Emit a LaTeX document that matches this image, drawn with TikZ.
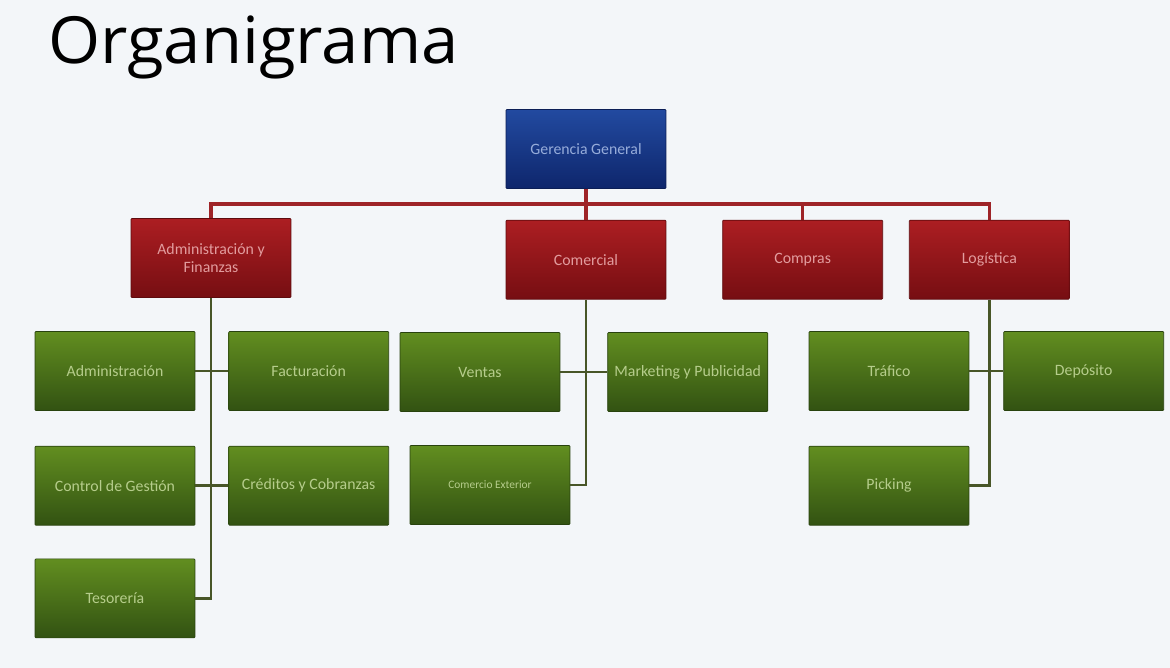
\documentclass[tikz,border=0pt]{standalone}
\usepackage{fontspec}
\setmainfont{Carlito}
\newfontfamily\titlefont{Open Sans}
\usetikzlibrary{positioning}
\definecolor{bg}{RGB}{243,246,249}
\definecolor{bt}{RGB}{34,74,160}
\definecolor{bb}{RGB}{14,38,108}
\definecolor{rt}{RGB}{172,30,34}
\definecolor{rb}{RGB}{118,14,18}
\definecolor{gt}{RGB}{98,142,32}
\definecolor{gb}{RGB}{50,82,18}
\definecolor{l1}{RGB}{158,36,40}
\definecolor{l2}{RGB}{72,86,40}
\definecolor{tb}{RGB}{150,172,218}
\definecolor{tr}{RGB}{226,156,158}
\definecolor{tg}{RGB}{182,205,140}

\begin{document}
\begin{tikzpicture}[
    x=0.02cm, y=-0.02cm,
    font=\fontsize{9}{10}\selectfont,
    e/.style={
        minimum width=3.2cm, minimum height=1.58cm,
        inner xsep=1pt, align=center, rounded corners=0.5pt
    },
    boss/.style={e, top color=bt, bottom color=bb, draw=bb!80!black,
        text=tb},
    dept/.style={e, top color=rt, bottom color=rb, draw=rb!80!black,
        text=tr},
    unit/.style={e, top color=gt, bottom color=gb, draw=gb!80!black,
        text=tg},
    l/.style={line width=2pt, color=l1},
    g/.style={line width=1.5pt, color=l2}
]

\fill [bg] (0,0) rectangle (1170,668);
\useasboundingbox (0,0) rectangle (1170,668);

\node [anchor=base west, inner sep=0pt,
    font=\titlefont\fontsize{37}{40}\selectfont, xscale=1.03] (T) at (48,64) {Organigrama};

% top
\node [boss] (GG) at (586,149) {Gerencia General};

% departments
\node [dept,below=0.62cm of GG] (COM) {Comercial};
\node [dept,right=1.12cm of COM] (CPR) {Compras};
\node [dept,right=0.52cm of CPR] (LOG) {Logística};
\node [dept] (AF) at (211,258) {Administración y\\Finanzas};

\draw [l] (GG.south) -- (COM.north);
\draw [l] (GG.south) -- ++(0,15) -| (AF.north);
\draw [l] (GG.south) -- ++(0,15) -| (CPR.north);
\draw [l] (GG.south) -- ++(0,15) -| (LOG.north);

% administracion y finanzas
\node [unit] (ADM) at (115,371) {Administración};
\node [unit,right=0.66cm of ADM] (FAC) {Facturación};
\node [unit,below=0.7cm of ADM] (CG) {Control de Gestión};
\node [unit,right=0.66cm of CG] (CC) {Créditos y Cobranzas};
\node [unit,below=0.66cm of CG] (TES) {Tesorería};

\draw [g] (AF.south) |- (TES.east);
\draw [g] (ADM.east) -- (FAC.west);
\draw [g] (CG.east) -- (CC.west);

% comercial
\node [unit] (VEN) at (480,372) {Ventas};
\node [unit,right=0.94cm of VEN] (MKT) {Marketing y Publicidad};
\node [unit] (CE) at (490,485) {\fontsize{6.5}{8}\selectfont Comercio Exterior};

\draw [g] (COM.south) |- (CE.east);
\draw [g] (VEN.east) -- (MKT.west);

% logistica
\node [unit] (TRA) at (889,371) {Tráfico};
\node [unit,right=0.68cm of TRA] (DEP) {Depósito};
\node [unit,below=0.7cm of TRA] (PIC) {Picking};

\draw [g] (LOG.south) |- (PIC.east);
\draw [g] (TRA.east) -- (DEP.west);

\end{tikzpicture}
\end{document}
